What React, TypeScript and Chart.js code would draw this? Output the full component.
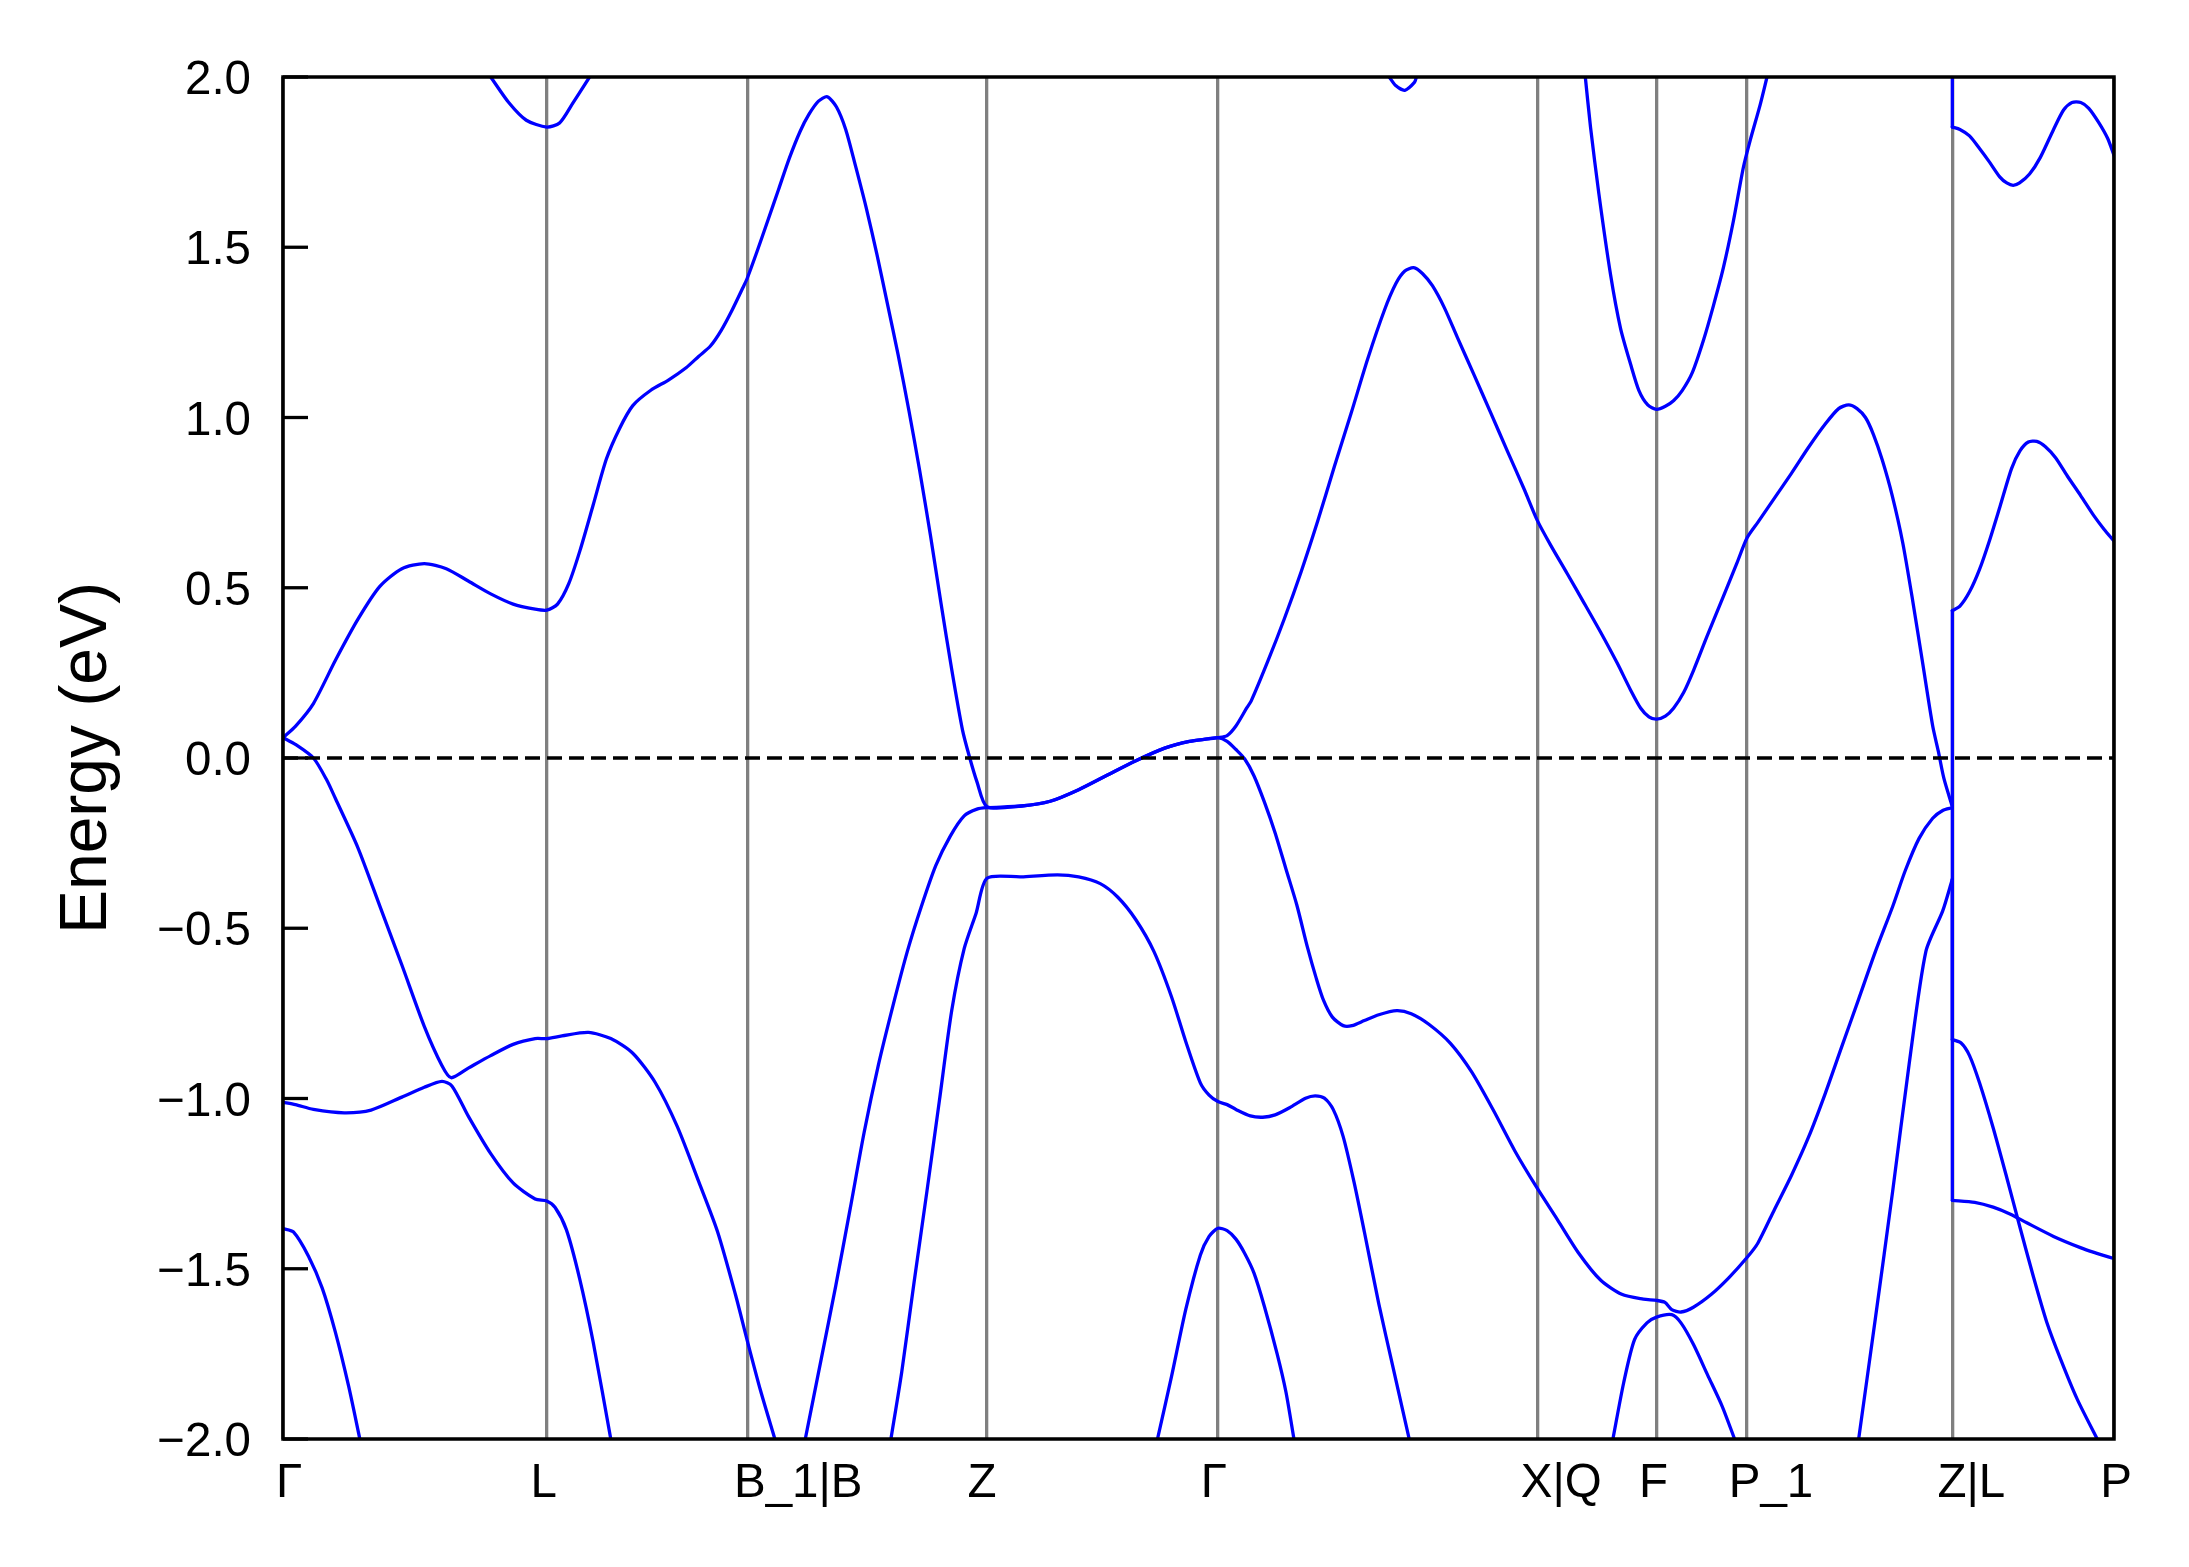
import React, { useEffect, useRef } from "react";
import { Chart, registerables } from "chart.js";

Chart.register(...registerables);

type Pt = [number, number];

// High-symmetry points along the k-path
const kTicks = [0, 0.659, 1.16, 1.759, 2.336, 3.134, 3.432, 3.658, 4.171, 4.575];
const kLabels = ["Γ", "L", "B_1|B", "Z", "Γ", "X|Q", "F", "P_1", "Z|L", "P"];
const fermiLevel = 0;
const energyMin = -2;
const energyMax = 2;
const energyStep = 0.5;

// Band segments [k, E (eV)]
const band1a: Pt[] = [[0, -1.382], [0.026, -1.392], [0.064, -1.464], [0.098, -1.557], [0.131, -1.687], [0.164, -1.845], [0.192, -2.0]];
const band1b: Pt[] = [[2.185, -2.0], [2.22, -1.817], [2.256, -1.618], [2.292, -1.46], [2.314, -1.405], [2.336, -1.381], [2.359, -1.388], [2.381, -1.413], [2.403, -1.455], [2.426, -1.512], [2.452, -1.61], [2.484, -1.75], [2.506, -1.862], [2.526, -2.0]];

const band2a: Pt[] = [[0, -1.011], [0.031, -1.018], [0.076, -1.032], [0.153, -1.042], [0.22, -1.034], [0.297, -0.996], [0.353, -0.967], [0.397, -0.95], [0.422, -0.963], [0.464, -1.054], [0.519, -1.162], [0.575, -1.248], [0.63, -1.295], [0.659, -1.301], [0.68, -1.32], [0.708, -1.385], [0.741, -1.528], [0.775, -1.715], [0.819, -2.0]];
const band2b: Pt[] = [[1.519, -2.0], [1.546, -1.803], [1.577, -1.538], [1.609, -1.272], [1.64, -1.007], [1.671, -0.741], [1.702, -0.56], [1.732, -0.455], [1.759, -0.353], [1.845, -0.349], [1.935, -0.343], [1.988, -0.349], [2.042, -0.369], [2.086, -0.409], [2.131, -0.475], [2.176, -0.568], [2.22, -0.701], [2.256, -0.834], [2.292, -0.954], [2.314, -0.99], [2.336, -1.009], [2.359, -1.018], [2.381, -1.032], [2.417, -1.051], [2.448, -1.055], [2.479, -1.048], [2.515, -1.027], [2.555, -0.999], [2.579, -0.992], [2.602, -0.999], [2.624, -1.032], [2.649, -1.112], [2.676, -1.245], [2.702, -1.392], [2.738, -1.603], [2.774, -1.792], [2.814, -2.0]];
const band2c: Pt[] = [[3.323, -2.0], [3.35, -1.834], [3.377, -1.708], [3.408, -1.659], [3.432, -1.642], [3.47, -1.635], [3.493, -1.659], [3.524, -1.722], [3.56, -1.813], [3.596, -1.904], [3.627, -2.0]];
const band2d: Pt[] = [[3.937, -2.0], [3.979, -1.644], [4.022, -1.272], [4.063, -0.9], [4.105, -0.568], [4.147, -0.449], [4.171, -0.356], [4.171, -1.299], [4.227, -1.305], [4.273, -1.319], [4.315, -1.339], [4.357, -1.365], [4.424, -1.405], [4.491, -1.438], [4.525, -1.452], [4.575, -1.47]];

const band3a: Pt[] = [[0, 0.06], [0.031, 0.04], [0.076, 0.0], [0.109, -0.064], [0.131, -0.119], [0.187, -0.263], [0.242, -0.435], [0.297, -0.608], [0.353, -0.788], [0.397, -0.903], [0.42, -0.939], [0.464, -0.91], [0.519, -0.874], [0.575, -0.841], [0.63, -0.824], [0.659, -0.824], [0.697, -0.816], [0.763, -0.806], [0.819, -0.824], [0.874, -0.867], [0.93, -0.953], [0.985, -1.082], [1.039, -1.245], [1.086, -1.392], [1.131, -1.578], [1.16, -1.711], [1.193, -1.857], [1.229, -2.0]];
const band3b: Pt[] = [[1.305, -2.0], [1.345, -1.764], [1.381, -1.551], [1.417, -1.325], [1.452, -1.1], [1.488, -0.9], [1.524, -0.728], [1.56, -0.568], [1.595, -0.436], [1.631, -0.316], [1.667, -0.23], [1.702, -0.17], [1.734, -0.15], [1.759, -0.146], [1.845, -0.141], [1.917, -0.127], [1.988, -0.093], [2.06, -0.05], [2.131, -0.008], [2.203, 0.029], [2.265, 0.049], [2.31, 0.056], [2.336, 0.06], [2.359, 0.049], [2.381, 0.025], [2.403, -0.003], [2.426, -0.052], [2.452, -0.129], [2.479, -0.22], [2.506, -0.326], [2.533, -0.431], [2.56, -0.557], [2.582, -0.648], [2.6, -0.712], [2.622, -0.761], [2.649, -0.786], [2.671, -0.786], [2.702, -0.771], [2.738, -0.754], [2.783, -0.742], [2.819, -0.751], [2.863, -0.782], [2.917, -0.838], [2.97, -0.922], [3.024, -1.034], [3.078, -1.154], [3.133, -1.262], [3.185, -1.357], [3.238, -1.455], [3.292, -1.533], [3.345, -1.575], [3.399, -1.589], [3.432, -1.593], [3.453, -1.599], [3.47, -1.62], [3.493, -1.627], [3.524, -1.613], [3.569, -1.575], [3.613, -1.526], [3.658, -1.467], [3.685, -1.425], [3.727, -1.325], [3.769, -1.226], [3.812, -1.113], [3.853, -0.987], [3.895, -0.847], [3.937, -0.708], [3.979, -0.568], [4.022, -0.436], [4.054, -0.329], [4.088, -0.236], [4.122, -0.177], [4.147, -0.154], [4.171, -0.146], [4.171, -0.827], [4.193, -0.837], [4.214, -0.874], [4.239, -0.954], [4.273, -1.086], [4.307, -1.232], [4.34, -1.378], [4.374, -1.525], [4.407, -1.657], [4.441, -1.764], [4.483, -1.883], [4.533, -2.0]];

const band4: Pt[] = [[0, 0.06], [0.031, 0.093], [0.076, 0.16], [0.131, 0.287], [0.187, 0.407], [0.242, 0.504], [0.297, 0.556], [0.353, 0.571], [0.408, 0.556], [0.464, 0.519], [0.519, 0.482], [0.575, 0.452], [0.63, 0.437], [0.659, 0.434], [0.686, 0.452], [0.714, 0.512], [0.742, 0.609], [0.775, 0.743], [0.808, 0.878], [0.841, 0.968], [0.874, 1.035], [0.919, 1.08], [0.963, 1.11], [1.008, 1.147], [1.039, 1.18], [1.068, 1.21], [1.095, 1.256], [1.122, 1.315], [1.149, 1.381], [1.16, 1.409], [1.184, 1.486], [1.211, 1.577], [1.238, 1.669], [1.265, 1.761], [1.292, 1.84], [1.314, 1.89], [1.338, 1.929], [1.36, 1.942], [1.383, 1.912], [1.406, 1.846], [1.43, 1.741], [1.457, 1.617], [1.484, 1.479], [1.51, 1.335], [1.537, 1.184], [1.564, 1.02], [1.591, 0.843], [1.618, 0.652], [1.644, 0.455], [1.671, 0.259], [1.698, 0.081], [1.716, 0.0], [1.734, -0.07], [1.759, -0.143], [1.845, -0.141], [1.917, -0.127], [1.988, -0.093], [2.06, -0.05], [2.131, -0.008], [2.203, 0.029], [2.265, 0.049], [2.31, 0.056], [2.336, 0.06], [2.359, 0.066], [2.381, 0.094], [2.408, 0.147], [2.419, 0.167], [2.461, 0.285], [2.502, 0.409], [2.544, 0.547], [2.586, 0.698], [2.627, 0.856], [2.669, 1.013], [2.71, 1.171], [2.752, 1.315], [2.781, 1.394], [2.803, 1.43], [2.825, 1.44], [2.847, 1.423], [2.872, 1.387], [2.902, 1.322], [2.934, 1.236], [2.976, 1.125], [3.018, 1.013], [3.059, 0.902], [3.101, 0.79], [3.134, 0.698], [3.167, 0.626], [3.209, 0.541], [3.251, 0.455], [3.292, 0.37], [3.334, 0.278], [3.367, 0.2], [3.392, 0.147], [3.413, 0.121], [3.432, 0.114], [3.454, 0.123], [3.475, 0.147], [3.5, 0.193], [3.525, 0.259], [3.558, 0.357], [3.599, 0.475], [3.633, 0.573], [3.658, 0.646], [3.685, 0.692], [3.727, 0.764], [3.769, 0.836], [3.811, 0.911], [3.853, 0.98], [3.887, 1.026], [3.912, 1.037], [3.933, 1.026], [3.954, 1.0], [3.974, 0.95], [3.996, 0.875], [4.021, 0.77], [4.047, 0.633], [4.072, 0.462], [4.097, 0.278], [4.122, 0.094], [4.136, 0.02], [4.15, -0.06], [4.171, -0.143], [4.171, 0.433], [4.19, 0.446], [4.214, 0.488], [4.239, 0.554], [4.264, 0.639], [4.29, 0.738], [4.319, 0.85], [4.34, 0.902], [4.361, 0.928], [4.382, 0.93], [4.403, 0.915], [4.429, 0.882], [4.458, 0.829], [4.492, 0.77], [4.525, 0.711], [4.55, 0.672], [4.575, 0.637]];

const band5a: Pt[] = [[0.519, 2.0], [0.564, 1.925], [0.608, 1.873], [0.659, 1.853], [0.691, 1.865], [0.725, 1.925], [0.766, 2.0]];
const band5b: Pt[] = [[2.764, 2.0], [2.781, 1.974], [2.803, 1.961], [2.827, 1.984], [2.832, 2.0]];
const band5c: Pt[] = [[3.254, 2.0], [3.267, 1.853], [3.288, 1.656], [3.317, 1.42], [3.342, 1.262], [3.367, 1.157], [3.388, 1.079], [3.41, 1.037], [3.432, 1.024], [3.454, 1.033], [3.475, 1.05], [3.496, 1.079], [3.521, 1.131], [3.55, 1.23], [3.574, 1.328], [3.599, 1.44], [3.624, 1.577], [3.649, 1.735], [3.666, 1.814], [3.691, 1.919], [3.708, 2.0]];
const band5d: Pt[] = [[4.171, 2.0], [4.171, 1.853], [4.19, 1.846], [4.214, 1.827], [4.239, 1.79], [4.264, 1.75], [4.29, 1.706], [4.307, 1.689], [4.323, 1.682], [4.339, 1.689], [4.364, 1.715], [4.391, 1.764], [4.424, 1.846], [4.449, 1.903], [4.47, 1.925], [4.492, 1.925], [4.512, 1.908], [4.537, 1.866], [4.559, 1.82], [4.575, 1.77]];

const bandSegments: Pt[][] = [band1a, band1b, band2a, band2b, band2c, band2d, band3a, band3b, band4, band5a, band5b, band5c, band5d];

// Styling (kept apart from the data)
const W = 2189;
const H = 1567;
const FONT = '"Liberation Sans", Arial, sans-serif';
const BAND_COLOR = "#0000ff";
const LINE_W = 3.3;
const labelShiftPx = [6, -3, 51, -5, -4, 24, -3, 24, 19, 2];

// Split a band at the branch discontinuities (two points at the same k) so
// that the jump is drawn as a straight vertical piece.
function splitAtJumps(seg: Pt[]): Pt[][] {
  const out: Pt[][] = [];
  let cur: Pt[] = [seg[0]];
  for (let i = 1; i < seg.length; i++) {
    if (seg[i][0] === seg[i - 1][0]) {
      if (cur.length > 1) out.push(cur);
      out.push([seg[i - 1], seg[i]]);
      cur = [seg[i]];
    } else {
      cur.push(seg[i]);
    }
  }
  if (cur.length > 1) out.push(cur);
  return out;
}

export default function App() {
  const ref = useRef<HTMLCanvasElement | null>(null);

  useEffect(() => {
    const canvas = ref.current;
    if (!canvas) return;

    const decor = {
      id: "decor",
      afterDraw(chart: any) {
        const { ctx, chartArea: a, scales } = chart;
        const xs = scales.x;
        const ys = scales.y;
        ctx.save();
        ctx.strokeStyle = "#000";
        ctx.lineWidth = LINE_W;
        ys.ticks.forEach((t: any) => {
          const py = ys.getPixelForValue(t.value);
          ctx.beginPath();
          ctx.moveTo(a.left, py);
          ctx.lineTo(a.left + 25, py);
          ctx.stroke();
        });
        ctx.lineWidth = 3.5;
        ctx.strokeRect(a.left, a.top, a.right - a.left, a.bottom - a.top);
        ctx.fillStyle = "#000";
        ctx.font = `47.5px ${FONT}`;
        ctx.textAlign = "center";
        ctx.textBaseline = "alphabetic";
        kTicks.forEach((k, i) => {
          ctx.fillText(kLabels[i], xs.getPixelForValue(k) + labelShiftPx[i], a.bottom + 58);
        });
        ctx.restore();
      },
    };

    const kEnd = kTicks[kTicks.length - 1];
    const pieces = bandSegments.flatMap(splitAtJumps);
    const datasets: any[] = [
      {
        data: [
          { x: kTicks[0], y: fermiLevel },
          { x: kEnd, y: fermiLevel },
        ],
        borderColor: "#000",
        borderWidth: LINE_W,
        borderDash: [15, 7],
        pointRadius: 0,
        tension: 0,
      },
      ...pieces.map((seg) => ({
        data: seg.map(([x, y]) => ({ x, y })),
        borderColor: BAND_COLOR,
        borderWidth: LINE_W,
        pointRadius: 0,
        tension: seg.length > 2 ? 0.25 : 0,
        borderJoinStyle: "round",
        borderCapStyle: "round",
      })),
    ];

    const chart = new Chart(canvas, {
      type: "line",
      data: { datasets },
      options: {
        animation: false,
        responsive: false,
        devicePixelRatio: 1,
        events: [],
        parsing: false,
        layout: { padding: { top: 77, right: 75, bottom: 0, left: 0 } },
        plugins: { legend: { display: false }, tooltip: { enabled: false } },
        scales: {
          x: {
            type: "linear",
            min: kTicks[0],
            max: kEnd,
            afterBuildTicks: (s: any) => {
              s.ticks = kTicks.map((v) => ({ value: v }));
            },
            afterFit: (s: any) => {
              s.height = H - 1439;
            },
            ticks: { display: false },
            grid: { color: "#808080", lineWidth: LINE_W, drawTicks: false },
            border: { display: false },
          },
          y: {
            type: "linear",
            min: energyMin,
            max: energyMax,
            afterFit: (s: any) => {
              s.width = 283;
            },
            ticks: {
              stepSize: energyStep,
              color: "#000",
              font: { family: FONT, size: 47.5 },
              padding: 32,
              labelOffset: 4,
              callback: (v: any) => Number(v).toFixed(1).replace("-", "\u2212"),
            },
            grid: { display: false, drawTicks: false },
            border: { display: false },
            title: {
              display: true,
              text: "Energy (eV)",
              color: "#000",
              font: { family: FONT, size: 66 },
              padding: { top: 48, bottom: 0 },
            },
          },
        },
      } as any,
      plugins: [decor],
    });

    return () => chart.destroy();
  }, []);

  return (
    <div style={{ position: "fixed", left: 0, top: 0, width: W, height: H, background: "#fff" }}>
      <canvas ref={ref} width={W} height={H} style={{ display: "block", width: W, height: H }} />
    </div>
  );
}
